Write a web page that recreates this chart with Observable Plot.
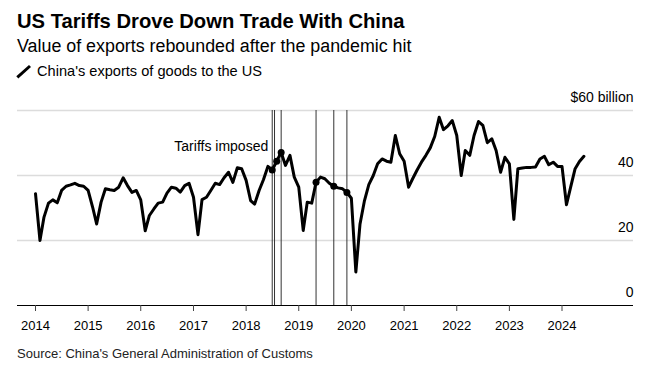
<!DOCTYPE html>
<html>
<head>
<meta charset="utf-8">
<script src="https://cdn.jsdelivr.net/npm/d3@7"></script>
<script src="https://cdn.jsdelivr.net/npm/@observablehq/plot@0.6"></script>
<style>
  html, body { margin: 0; padding: 0; background: #fff; }
  body { width: 646px; height: 375px; position: relative; overflow: hidden;
         font-family: "Liberation Sans", Arial, Helvetica, sans-serif; color: #000; }
  .t { position: absolute; left: 17px; white-space: nowrap; }
  #title { top: 11.2px; font-size: 20.2px; line-height: 20.2px; font-weight: bold; }
  #subtitle { top: 38.2px; font-size: 17.85px; line-height: 17.85px; }
  #legend { top: 63.6px; left: 37px; font-size: 14.6px; line-height: 14.6px; }
  #legicon { position: absolute; left: 15px; top: 63px; }
  #source { top: 347px; font-size: 13px; line-height: 13px; color: #222; }
  #chart { position: absolute; left: 0; top: 84px; }
</style>
</head>
<body>
<div class="t" id="title">US Tariffs Drove Down Trade With China</div>
<div class="t" id="subtitle">Value of exports rebounded after the pandemic hit</div>
<svg id="legicon" width="18" height="18"><line x1="2.3" y1="14.3" x2="15" y2="3" stroke="#000" stroke-width="3"/></svg>
<div class="t" id="legend">China's exports of goods to the US</div>
<div id="chart"></div>
<div class="t" id="source">Source: China's General Administration of Customs</div>
<script>
// Monthly series starts January 2014 (one value per month, through June 2024)
const seriesStart = "2014-01-01";
const exportsValues = [
  34.4, 20.0, 27.2, 31.5, 32.5, 31.6, 35.4, 36.7, 37.1, 37.6, 36.9, 36.7, // 2014
  35.4, 30.3, 25.1, 31.8, 35.9, 35.6, 35.4, 36.4, 39.3, 36.9, 34.8, 35.4, // 2015
  32.5, 23.0, 27.7, 29.7, 31.5, 31.8, 34.6, 36.4, 36.1, 34.9, 36.9, 37.6, // 2016
  33.3, 21.8, 32.6, 33.3, 35.4, 37.6, 37.2, 39.3, 41.0, 37.9, 42.4, 42.1, // 2017
  38.5, 32.3, 31.2, 35.4, 38.7, 42.8, 41.7, 44.4, 47.1, 43.1, 46.2, 39.5, // 2018
  36.4, 23.1, 31.8, 31.5, 37.9, 39.5, 39.0, 37.6, 36.7, 36.2, 35.9, 34.8, // 2019
  33.0, 10.3, 25.1, 32.3, 37.2, 40.0, 43.6, 45.1, 44.4, 44.1, 52.3, 46.7, // 2020
  44.4, 36.4, 39.0, 41.7, 44.1, 46.2, 48.5, 52.0, 57.9, 54.1, 55.3, 56.9, // 2021
  52.3, 40.0, 47.7, 46.2, 52.3, 56.6, 55.4, 50.1, 51.3, 47.7, 41.0, 45.6, // 2022
  43.6, 26.5, 42.1, 42.3, 42.5, 42.5, 42.6, 45.1, 45.9, 43.3, 44.1, 42.8, // 2023
  42.8, 31.0, 36.4, 42.1, 44.3, 45.9                                      // 2024
];
// Tariff events: vertical rules and highlighted months
const tariffRuleDates = ["2018-07-01", "2018-07-17", "2018-09-01", "2019-05-01", "2019-09-01", "2019-12-01"];
const tariffPointMonths = ["2018-07-01", "2018-08-01", "2018-09-01", "2019-05-01", "2019-09-01", "2019-12-01"];
const annotationText = "Tariffs imposed";
const annotationDate = "2018-07-01";
const annotationValue = 49;
// Axis ticks
const yearTicks = [2014, 2015, 2016, 2017, 2018, 2019, 2020, 2021, 2022, 2023, 2024];
const yTicks = [0, 20, 40, 60];
const gridValues = [20, 40, 60];
const topTickLabel = "$60 billion";

const parse = s => new Date(s + "T00:00:00Z");
const start = parse(seriesStart);
const data = exportsValues.map((v, i) => ({date: d3.utcMonth.offset(start, i), value: v}));
const byTime = new Map(data.map(d => [+d.date, d.value]));
const points = tariffPointMonths.map(s => ({date: parse(s), value: byTime.get(+parse(s))}));
const rules = tariffRuleDates.map(parse);
const yearDates = yearTicks.map(y => new Date(Date.UTC(y, 0, 1)));

const chart = Plot.plot({
  width: 646,
  height: 256,
  marginTop: 26,
  marginBottom: 35,
  marginLeft: 17,
  marginRight: 13,
  style: {fontFamily: '"Liberation Sans", Arial, Helvetica, sans-serif', fontSize: "13px", color: "#000", background: "transparent"},
  x: {type: "utc", domain: [yearDates[0], yearDates[yearDates.length - 1]], range: [35, 561.5]},
  y: {domain: [0, 60]},
  marks: [
    Plot.ruleY(gridValues, {stroke: "#dcdcdc", strokeWidth: 1.5}),
    Plot.ruleX(rules, {y1: 0, y2: 60, stroke: "#333", strokeWidth: 1}),
    Plot.ruleY([0], {stroke: "#000", strokeWidth: 1.2}),
    Plot.axisX(yearDates, {tickSize: 6, tickPadding: 9, tickFormat: d3.utcFormat("%Y"), stroke: "#444", fontSize: 13, label: null}),
    Plot.axisY(yTicks, {anchor: "right", tickSize: 0, tickPadding: 0, textAnchor: "end", dy: -13, fontSize: 14,
      tickFormat: d => d === 60 ? topTickLabel : String(d), label: null}),
    Plot.lineY(data, {x: "date", y: "value", stroke: "#000", strokeWidth: 3, strokeLinejoin: "round", strokeLinecap: "round"}),
    Plot.dot(points, {x: "date", y: "value", r: 3.5, fill: "#000", stroke: "none"}),
    Plot.text([{date: parse(annotationDate), value: annotationValue, text: annotationText}],
      {x: "date", y: "value", text: "text", textAnchor: "end", dx: -4, fontSize: 14, fill: "#000"})
  ]
});
document.getElementById("chart").appendChild(chart);
</script>
</body>
</html>
